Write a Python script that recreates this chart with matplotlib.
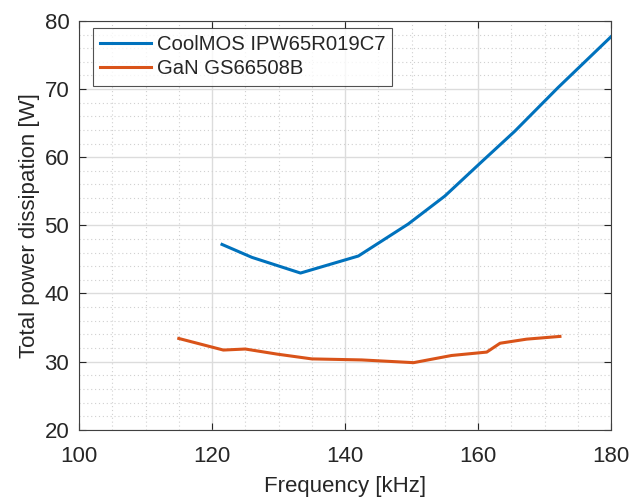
import matplotlib.pyplot as plt
from matplotlib.ticker import MultipleLocator

# CoolMOS IPW65R019C7
coolmos_freq = [121.5, 126.0, 133.3, 142.0, 149.5, 155.0, 160.5, 165.5, 172.0, 180.0]
coolmos_loss = [47.2, 45.3, 43.0, 45.5, 50.2, 54.3, 59.3, 63.8, 70.2, 77.7]

# GaN GS66508B
gan_freq = [115.0, 121.7, 125.0, 129.8, 135.0, 142.5, 150.3, 156.0, 161.3, 163.3, 167.3, 172.3]
gan_loss = [33.4, 31.7, 31.85, 31.1, 30.4, 30.25, 29.85, 30.9, 31.4, 32.7, 33.3, 33.7]

series_labels = ["CoolMOS IPW65R019C7", "GaN GS66508B"]

plt.rcParams["font.family"] = ["Liberation Sans", "DejaVu Sans"]
TEXT = "#262626"

fig = plt.figure(figsize=(6.32, 4.98), dpi=100)
ax = fig.add_axes([0.125, 0.137, 0.842, 0.821])

ax.plot(coolmos_freq, coolmos_loss, color="#0072BD", lw=2.2, label=series_labels[0])
ax.plot(gan_freq, gan_loss, color="#D95319", lw=2.2, label=series_labels[1])

ax.set_xlim(100, 180)
ax.set_ylim(20, 80)
ax.xaxis.set_major_locator(MultipleLocator(20))
ax.xaxis.set_minor_locator(MultipleLocator(5))
ax.yaxis.set_major_locator(MultipleLocator(10))
ax.yaxis.set_minor_locator(MultipleLocator(2))

ax.grid(which="major", color="#dcdcdc", lw=1, ls="-")
ax.grid(which="minor", color="#d0d0d0", lw=0.8, ls=(0, (1, 2.5)))
ax.set_axisbelow(True)

ax.tick_params(which="both", direction="in", top=True, right=True,
               colors=TEXT, labelsize=16)
ax.tick_params(axis="x", pad=12)
ax.tick_params(axis="y", pad=7)
ax.tick_params(which="major", length=5)
ax.tick_params(which="minor", length=0)
for s in ax.spines.values():
    s.set_color("#404040")
    s.set_linewidth(0.8)

ax.set_xlabel("Frequency [kHz]", fontsize=16, color=TEXT, labelpad=6)
ax.set_ylabel("Total power dissipation [W]", fontsize=16, color=TEXT, labelpad=3)

leg = ax.legend(loc="upper left", bbox_to_anchor=(0.026, 0.982), fontsize=14.6,
                frameon=True, fancybox=False, edgecolor="#262626",
                handlelength=2.5, handletextpad=0.3, borderpad=0.35,
                labelspacing=0.25, borderaxespad=0)
leg.get_frame().set_linewidth(0.8)
for t in leg.get_texts():
    t.set_color(TEXT)

fig.savefig("out.png", dpi=100)
